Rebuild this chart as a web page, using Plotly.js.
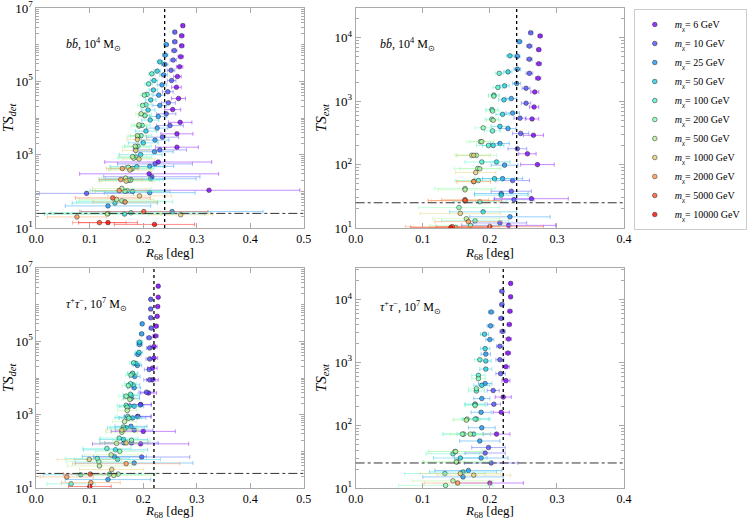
<!DOCTYPE html>
<html>
<head>
<meta charset="utf-8">
<script src="https://cdn.plot.ly/plotly-3.0.1.min.js"></script>
<style>
body { margin: 0; background: #fff; }
#chart { width: 747px; height: 519px; }
</style>
</head>
<body>
<div id="chart"></div>
<script>
// dark matter masses [GeV], one series each
const masses = [6, 10, 25, 50, 100, 200, 500, 1000, 2000, 5000, 10000];

// thresholds drawn as reference lines
const tsThreshold = 25;
const psfR68 = [0.24, 0.24, 0.22, 0.22];

// b bbar, 10^4 Msun, detection TS
const bbDetTS = [
  [3.3e6,1.75e6,9.3e5,4.7e5,2.5e5,1.35e5,6.9e4,3.4e4,1.7e4,7.6e3,3.7e3,1.6e3,630,300,107],
  [2.2e6,1.2e6,6.9e5,3.8e5,2.0e5,1.05e5,5.2e4,2.6e4,1.3e4,6.2e3,3.0e3,1.35e3,560,250,88],
  [1.0e6,5.2e5,2.9e5,1.5e5,8.0e4,4.2e4,2.2e4,1.1e4,5.3e3,2.5e3,1.2e3,480,220,92,40,28],
  [3.4e5,1.9e5,1.05e5,5.8e4,3.1e4,1.65e4,8.8e3,4.4e3,2.1e3,1.0e3,470,210,100,48,24],
  [1.6e5,8.5e4,4.4e4,2.3e4,1.2e4,6.3e3,3.3e3,1.7e3,850,420,200,105,52,26],
  [4.2e4,2.2e4,1.15e4,6e3,3.1e3,1.6e3,800,400,200,100,55,25],
  [1.3e4,6.5e3,3.3e3,1.7e3,880,450,230,120,60,24],
  [2.6e3,1.3e3,760,380,190,75,23],
  [420,210,105,51,20],
  [66,28,14],
  [14,12.5]
];
const bbDetR = [
  [0.274,0.272,0.272,0.270,0.268,0.264,0.262,0.266,0.255,0.269,0.263,0.263,0.228,0.211,0.323],
  [0.259,0.259,0.258,0.256,0.252,0.253,0.246,0.247,0.243,0.250,0.236,0.231,0.222,0.216,0.094],
  [0.243,0.241,0.240,0.238,0.235,0.229,0.231,0.228,0.226,0.222,0.221,0.212,0.214,0.212,0.134,0.254],
  [0.231,0.226,0.220,0.219,0.214,0.209,0.213,0.205,0.200,0.195,0.188,0.177,0.180,0.147,0.165],
  [0.216,0.210,0.207,0.205,0.203,0.198,0.196,0.190,0.186,0.180,0.176,0.170,0.165,0.177],
  [0.202,0.199,0.203,0.192,0.190,0.186,0.182,0.177,0.172,0.166,0.160,0.134],
  [0.196,0.192,0.189,0.185,0.180,0.172,0.167,0.160,0.150,0.133],
  [0.189,0.186,0.192,0.175,0.168,0.193,0.270],
  [0.161,0.158,0.155,0.166,0.076],
  [0.143,0.201,0.118],
  [0.134,0.221]
];
const bbDetErr = [
  [0.003,0.004,0.004,0.005,0.006,0.007,0.009,0.013,0.015,0.022,0.03,0.04,0.1,0.13,0.17],
  [0.003,0.004,0.005,0.006,0.007,0.008,0.010,0.013,0.018,0.025,0.03,0.05,0.07,0.09,0.088],
  [0.004,0.005,0.006,0.007,0.009,0.011,0.013,0.016,0.02,0.026,0.035,0.045,0.085,0.085,0.08,0.17],
  [0.005,0.006,0.007,0.008,0.01,0.013,0.016,0.02,0.028,0.04,0.05,0.06,0.07,0.08,0.15],
  [0.006,0.007,0.008,0.01,0.012,0.015,0.02,0.025,0.03,0.04,0.055,0.07,0.09,0.15],
  [0.008,0.01,0.012,0.015,0.02,0.025,0.03,0.04,0.05,0.065,0.08,0.12],
  [0.01,0.013,0.016,0.02,0.027,0.035,0.045,0.055,0.07,0.1],
  [0.02,0.025,0.03,0.04,0.05,0.06,0.06],
  [0.03,0.04,0.05,0.06,0.055],
  [0.07,0.12,0.05],
  [0.055,0.075]
];

// b bbar, 10^4 Msun, extension TS
const bbExtTS = [
  [1.07e4,6.5e3,3.9e3,2.3e3,1.4e3,810,525,290,148,100,29,11],
  [1.2e4,7.4e3,4.6e3,2.75e3,1.6e3,930,540,310,178,56,38,28,12],
  [8.7e3,5.1e3,3.2e3,1.9e3,1.1e3,650,370,215,98,60,35,15],
  [5.2e3,2.9e3,1.75e3,1.05e3,620,400,200,110,60,33,18],
  [2.75e3,1.65e3,1.25e3,740,520,340,200,110,56,26,13],
  [1.2e3,700,380,230,140,87,42,21,11],
  [500,230,140,86,40,14,10.2],
  [140,75,54,27,17],
  [54,28,12.6,10.5],
  [27,10.5],
  [10.2]
];
const bbExtR = [
  [0.275,0.273,0.273,0.272,0.267,0.266,0.263,0.265,0.256,0.271,0.262,0.228],
  [0.261,0.259,0.259,0.259,0.254,0.254,0.245,0.246,0.241,0.234,0.232,0.236,0.215],
  [0.244,0.241,0.241,0.240,0.232,0.234,0.227,0.215,0.222,0.219,0.217,0.230],
  [0.230,0.227,0.222,0.221,0.219,0.215,0.205,0.210,0.207,0.217,0.190],
  [0.214,0.212,0.206,0.203,0.203,0.204,0.198,0.188,0.183,0.185,0.178],
  [0.206,0.204,0.190,0.186,0.180,0.182,0.163,0.154,0.171],
  [0.205,0.188,0.173,0.185,0.163,0.165,0.149],
  [0.176,0.179,0.176,0.163,0.156],
  [0.176,0.163,0.168,0.144],
  [0.163,0.200],
  [0.142]
];
const bbExtErr = [
  [0.003,0.003,0.004,0.004,0.006,0.007,0.01,0.015,0.013,0.025,0.055,0.07],
  [0.003,0.004,0.004,0.005,0.006,0.007,0.009,0.012,0.014,0.025,0.03,0.03,0.04],
  [0.004,0.004,0.005,0.006,0.008,0.01,0.012,0.014,0.02,0.03,0.04,0.06],
  [0.005,0.006,0.007,0.008,0.01,0.013,0.016,0.02,0.03,0.04,0.05],
  [0.006,0.007,0.008,0.009,0.01,0.012,0.018,0.025,0.035,0.04,0.05],
  [0.008,0.01,0.012,0.02,0.03,0.035,0.045,0.06,0.06],
  [0.01,0.018,0.025,0.03,0.04,0.05,0.04],
  [0.025,0.03,0.025,0.05,0.06],
  [0.025,0.035,0.05,0.07],
  [0.055,0.08],
  [0.06]
];

// tau tau, 10^7 Msun, detection TS
const tauDetTS = [
  [3.2e6,1.6e6,8.9e5,4.8e5,2.6e5,1.4e5,7.2e4,3.5e4,1.85e4,8.9e3,3.9e3,1.9e3,900,350,160],
  [1.4e6,7.6e5,4.4e5,2.3e5,1.25e5,6.6e4,3.3e4,1.7e4,8.9e3,4.1e3,1.85e3,880,380,170,70],
  [3.0e5,1.6e5,8.2e4,4.4e4,2.2e4,1.1e4,5.4e3,2.8e3,1.7e3,810,480,170,72,48,17],
  [9.5e4,5e4,2.5e4,1.3e4,6.5e3,3.3e3,1.7e3,830,440,210,110,60,23],
  [2.6e4,1.35e4,7e3,3.6e3,1.8e3,900,460,230,120,64,24,13],
  [1.2e4,6.2e3,3.2e3,1.6e3,800,400,200,100,52,24],
  [2.6e3,1.3e3,650,330,165,80,40,22],
  [380,170,60,32],
  [46,20,14],
  [24],
  [11]
];
const tauDetR = [
  [0.228,0.228,0.227,0.226,0.224,0.223,0.220,0.220,0.217,0.217,0.210,0.195,0.190,0.200,0.195],
  [0.214,0.214,0.214,0.215,0.211,0.212,0.212,0.211,0.212,0.206,0.195,0.189,0.183,0.178,0.197],
  [0.198,0.197,0.193,0.190,0.189,0.184,0.183,0.178,0.183,0.180,0.177,0.164,0.146,0.183,0.134],
  [0.193,0.192,0.186,0.180,0.181,0.178,0.174,0.172,0.168,0.163,0.148,0.152,0.083],
  [0.182,0.180,0.176,0.176,0.168,0.171,0.163,0.155,0.132,0.114,0.137,0.065],
  [0.177,0.172,0.168,0.170,0.173,0.164,0.178,0.156,0.117,0.153],
  [0.175,0.170,0.165,0.160,0.150,0.140,0.118,0.145],
  [0.160,0.168,0.099,0.141],
  [0.168,0.057,0.102],
  [0.101],
  [0.100]
];
const tauDetErr = [
  [0.002,0.002,0.003,0.003,0.004,0.005,0.006,0.007,0.009,0.011,0.015,0.02,0.025,0.06,0.09],
  [0.002,0.003,0.003,0.004,0.005,0.006,0.007,0.009,0.011,0.014,0.02,0.025,0.035,0.05,0.09],
  [0.003,0.004,0.005,0.006,0.008,0.01,0.012,0.015,0.018,0.025,0.03,0.045,0.06,0.11,0.08],
  [0.006,0.007,0.008,0.01,0.012,0.015,0.018,0.025,0.035,0.045,0.06,0.08,0.07],
  [0.008,0.009,0.011,0.014,0.017,0.02,0.025,0.035,0.045,0.06,0.06,0.045],
  [0.01,0.012,0.014,0.017,0.02,0.025,0.035,0.045,0.06,0.07],
  [0.015,0.018,0.022,0.03,0.04,0.05,0.06,0.07],
  [0.03,0.045,0.06,0.06],
  [0.1,0.05,0.055],
  [0.05],
  [0.04]
];

// tau tau, 10^7 Msun, extension TS
const tauExtTS = [
  [1.8e4,1.1e4,6.5e3,4.0e3,2.35e3,1.4e3,850,510,280,160,72,12],
  [1.35e4,8.3e3,5e3,3.1e3,1.8e3,1.1e3,660,355,215,44,36,25],
  [6.3e3,3.8e3,2.3e3,1.35e3,460,265,160,91,56,30,19,15],
  [2.8e3,1.65e3,1.05e3,780,430,215,125,72,30,18],
  [1.1e3,620,350,215,125,72,35,17],
  [550,380,205,125,72,38,26,11],
  [120,72,38,26,13],
  [17,16],
  [12],
  [],
  []
];
const tauExtR = [
  [0.231,0.231,0.230,0.229,0.228,0.227,0.224,0.224,0.220,0.217,0.210,0.200],
  [0.218,0.218,0.217,0.219,0.215,0.215,0.216,0.205,0.206,0.198,0.193,0.202],
  [0.202,0.201,0.200,0.194,0.193,0.188,0.187,0.188,0.185,0.187,0.168,0.160],
  [0.192,0.193,0.194,0.194,0.188,0.178,0.180,0.176,0.156,0.160],
  [0.185,0.183,0.180,0.178,0.178,0.161,0.145,0.133],
  [0.183,0.180,0.178,0.166,0.159,0.148,0.151,0.134],
  [0.165,0.171,0.149,0.150,0.145],
  [0.156,0.176],
  [0.152],
  [],
  []
];
const tauExtErr = [
  [0.002,0.002,0.003,0.003,0.004,0.004,0.005,0.006,0.012,0.012,0.02,0.05],
  [0.003,0.003,0.004,0.004,0.005,0.006,0.007,0.009,0.01,0.025,0.03,0.04],
  [0.004,0.005,0.006,0.007,0.01,0.012,0.015,0.02,0.03,0.04,0.05,0.06],
  [0.006,0.007,0.008,0.009,0.012,0.015,0.02,0.025,0.04,0.05],
  [0.008,0.01,0.012,0.015,0.02,0.03,0.04,0.06],
  [0.01,0.012,0.015,0.02,0.03,0.04,0.05,0.07],
  [0.02,0.03,0.04,0.05,0.06],
  [0.06,0.055],
  [0.05],
  [],
  []
];

// matplotlib "rainbow" colours for the 11 masses
const massColors = [
  [128,0,255],[77,79,252],[26,150,243],[26,206,227],[77,243,206],[128,255,180],
  [179,243,150],[230,206,116],[255,150,79],[255,79,40],[255,0,0]
];

function rgba(c, a) {
  return 'rgba(' + c[0] + ',' + c[1] + ',' + c[2] + ',' + a + ')';
}

function panelTraces(rs, tss, errs, xa, ya, legend) {
  return masses.map(function (m, i) {
    return {
      type: 'scatter',
      mode: 'markers',
      x: rs[i],
      y: tss[i],
      xaxis: xa,
      yaxis: ya,
      name: '<i>m</i><sub>χ</sub>= ' + m + ' GeV',
      legendgroup: 'm' + m,
      showlegend: legend,
      marker: {
        size: 4.6,
        color: rgba(massColors[i], 0.8),
        line: {color: '#222', width: 0.5}
      },
      error_x: {
        type: 'data',
        array: errs[i],
        color: rgba(massColors[i], 0.45),
        thickness: 1,
        width: 2
      }
    };
  });
}

let data = []
data = data.concat(panelTraces(bbDetR, bbDetTS, bbDetErr, 'x', 'y', true))
data = data.concat(panelTraces(bbExtR, bbExtTS, bbExtErr, 'x2', 'y2', false))
data = data.concat(panelTraces(tauDetR, tauDetTS, tauDetErr, 'x3', 'y3', false))
data = data.concat(panelTraces(tauExtR, tauExtTS, tauExtErr, 'x4', 'y4', false))

const frame = '#aaa';
const serif = 'Liberation Serif, Times New Roman, serif';

// x titles are placed as annotations below (axis title standoff is clamped by the margins)
function xAxis(domain, range, anchor) {
  return {
    domain: domain,
    range: range,
    anchor: anchor,
    dtick: 0.1,
    tickformat: '.1f',
    ticks: 'inside',
    ticklen: 5,
    tickcolor: frame,
    mirror: 'allticks',
    showline: true,
    linecolor: frame,
    linewidth: 1,
    showgrid: false,
    zeroline: false,
    ticklabeloverflow: 'allow',
    tickfont: {size: 12, color: '#000', family: serif}
  };
}

function yAxis(domain, range, tickvals, anchor, label) {
  return {
    domain: domain,
    range: range,
    anchor: anchor,
    type: 'log',
    tickvals: tickvals,
    ticktext: tickvals.map(function (v) { return '10<sup>' + Math.round(Math.log10(v)) + '</sup>'; }),
    ticks: 'inside',
    ticklen: 5,
    tickcolor: frame,
    minor: {ticks: 'inside', ticklen: 3, tickcolor: frame, dtick: 'D1'},
    mirror: 'allticks',
    showline: true,
    linecolor: frame,
    linewidth: 1,
    showgrid: false,
    zeroline: false,
    ticklabeloverflow: 'allow',
    tickfont: {size: 13, color: '#000', family: serif},
    title: {text: '<i>TS</i><sub><i>' + label + '</i></sub>', standoff: 4, font: {size: 15, color: '#000', family: serif}}
  };
}

// plot area is 747 x 488 (31 px bottom margin below the lowest axes)
const plotH = 488;
const colLeft = [0.0495, 0.4137];
const colRight = [0.4846, 0.8501];
const rowTop = [0.5328, 0.9836];
const rowBottom = [0, 0.4508];

const shapes = [];
['x', 'x2', 'x3', 'x4'].forEach(function (xa, k) {
  const ya = 'y' + (k === 0 ? '' : k + 1);
  shapes.push({
    type: 'line', xref: xa, yref: ya + ' domain',
    x0: psfR68[k], x1: psfR68[k], y0: 0, y1: 1,
    line: {color: '#000', width: 1.3, dash: 'dot'}
  });
  shapes.push({
    type: 'line', xref: xa + ' domain', yref: ya,
    x0: 0, x1: 1, y0: tsThreshold, y1: tsThreshold,
    line: {color: '#333', width: 1, dash: 'dashdot'}
  });
});

const bbLabel = '<i>b</i><i>b\u0304</i>, 10<sup>4</sup> M<sub>\u2299</sub>';
const tauLabel = '<i>τ</i><sup>+</sup><i>τ</i><sup>\u2212</sup>, 10<sup>7</sup> M<sub>\u2299</sub>';
const xTitle = '<i>R</i><sub>68</sub> [deg]';

const annotations = [
  {text: bbLabel, x: 65 / 747, y: 1 - 45 / plotH, xanchor: 'left', size: 12},
  {text: bbLabel, x: 385 / 747, y: 1 - 45 / plotH, xanchor: 'left', size: 12},
  {text: tauLabel, x: 65 / 747, y: 1 - 304 / plotH, xanchor: 'left', size: 12},
  {text: tauLabel, x: 385 / 747, y: 1 - 307 / plotH, xanchor: 'left', size: 12},
  {text: xTitle, x: 173 / 747, y: 1 - 253 / plotH, xanchor: 'center', size: 13},
  {text: xTitle, x: 498 / 747, y: 1 - 253 / plotH, xanchor: 'center', size: 13},
  {text: xTitle, x: 173 / 747, y: 1 - 511 / plotH, xanchor: 'center', size: 13},
  {text: xTitle, x: 498 / 747, y: 1 - 511 / plotH, xanchor: 'center', size: 13}
].map(function (a) {
  return {xref: 'paper', yref: 'paper', x: a.x, y: a.y, text: a.text,
    xanchor: a.xanchor, yanchor: 'middle', showarrow: false,
    font: {size: a.size, color: '#000', family: serif}};
});

let layout = {
  width: 747,
  height: 519,
  margin: {l: 0, r: 0, t: 0, b: 31},
  paper_bgcolor: '#fff',
  plot_bgcolor: '#fff',
  font: {family: serif, color: '#000'},
  xaxis: xAxis(colLeft, [0, 0.5], 'y'),
  yaxis: yAxis(rowTop, [0.9999, 7.0001], [1e1, 1e3, 1e5, 1e7], 'x', 'det'),
  xaxis2: xAxis(colRight, [0, 0.4], 'y2'),
  yaxis2: yAxis(rowTop, [0.9999, 4.47], [1e1, 1e2, 1e3, 1e4], 'x2', 'ext'),
  xaxis3: xAxis(colLeft, [0, 0.5], 'y3'),
  yaxis3: yAxis(rowBottom, [0.9999, 7.0001], [1e1, 1e3, 1e5, 1e7], 'x3', 'det'),
  xaxis4: xAxis(colRight, [0, 0.4], 'y4'),
  yaxis4: yAxis(rowBottom, [0.9999, 4.5], [1e1, 1e2, 1e3, 1e4], 'x4', 'ext'),
  shapes: shapes,
  annotations: annotations,
  showlegend: true,
  legend: {
    x: 645 / 747,
    y: 1 - 9 / plotH,
    xanchor: 'left',
    yanchor: 'top',
    bgcolor: '#fff',
    bordercolor: '#ccc',
    borderwidth: 1,
    tracegroupgap: 0,
    font: {size: 10, family: serif, color: '#000'}
  }
};

Plotly.newPlot('chart', data, layout, {staticPlot: true});
</script>
</body>
</html>
